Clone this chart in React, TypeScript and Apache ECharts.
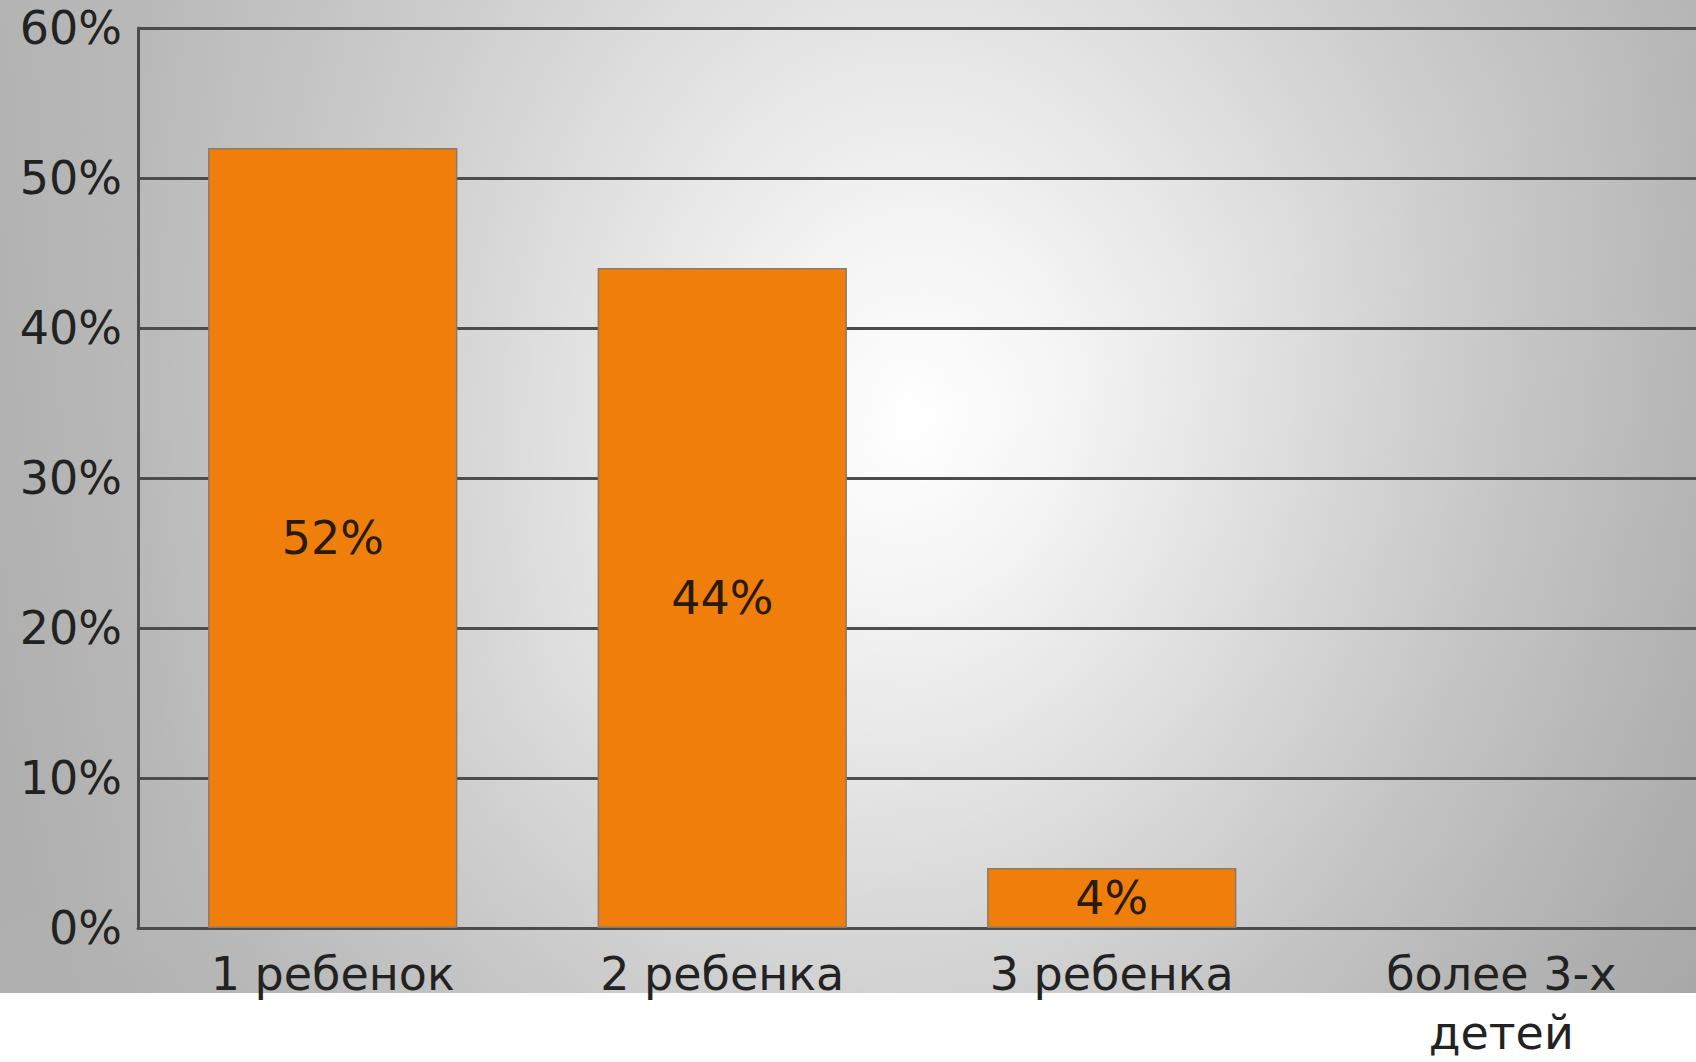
import React, { useEffect, useRef } from "react";
import * as echarts from "echarts";

const categories = ["1 ребенок", "2 ребенка", "3 ребенка", "более 3-х детей"];
const values = [52, 44, 4, 0];
const yTicks = [0, 10, 20, 30, 40, 50, 60];

export default function App() {
  const ref = useRef<HTMLDivElement>(null);
  useEffect(() => {
    if (!ref.current) return;
    const chart = echarts.init(ref.current, null, { renderer: "svg" });
    const font = "DejaVu Sans";
    const sx = 1696 / 2220;
    const sy = 993 / 1000;
    chart.setOption({
      animation: false,
      backgroundColor: "#ffffff",
      graphic: [
        {
          type: "rect",
          z: -10,
          silent: true,
          x: 0,
          y: 0,
          scaleX: sx,
          scaleY: sy,
          shape: { x: 0, y: 0, width: 2220, height: 1000 },
          style: {
            fill: {
              type: "radial",
              global: true,
              x: 910 / sx,
              y: 410 / sy,
              r: 1243,
              colorStops: [
                { offset: 0, color: "#ffffff" },
                { offset: 0.15, color: "#f6f6f6" },
                { offset: 0.33, color: "#e6e6e6" },
                { offset: 0.6, color: "#cccccc" },
                { offset: 0.85, color: "#b8b8b8" },
                { offset: 1, color: "#b0b0b0" },
              ],
            },
          },
        },
        {
          type: "rect",
          z: -9,
          silent: true,
          shape: { x: 0, y: 0, width: 1696, height: 993 },
          style: {
            fill: {
              type: "linear",
              x: 0,
              y: 0,
              x2: 1,
              y2: 1,
              colorStops: [
                { offset: 0, color: "rgba(255,255,255,0.05)" },
                { offset: 0.5, color: "rgba(0,0,0,0)" },
                { offset: 1, color: "rgba(0,0,0,0.06)" },
              ],
            },
          },
        },
      ],
      grid: { left: 138, right: 0, top: 28, bottom: 128, containLabel: false },
      xAxis: {
        type: "category",
        data: categories,
        axisTick: { show: false },
        axisLine: { show: true, lineStyle: { color: "#4c4c4c", width: 3 } },
        axisLabel: {
          fontFamily: font,
          fontSize: 46,
          color: "#222222",
          margin: 16,
          lineHeight: 59,
          interval: 0,
          formatter: (v: string) => v.replace(" детей", "\nдетей"),
        },
      },
      yAxis: {
        type: "value",
        min: yTicks[0],
        max: yTicks[yTicks.length - 1],
        interval: 10,
        axisLine: { show: true, lineStyle: { color: "#4c4c4c", width: 3 } },
        axisTick: { show: false },
        axisLabel: {
          fontFamily: font,
          fontSize: 46,
          color: "#222222",
          margin: 16,
          formatter: (v: number) => v + "%",
        },
        splitLine: { show: true, lineStyle: { color: "#4c4c4c", width: 3 } },
      },
      series: [
        {
          type: "bar",
          data: values.map((v) =>
            v === 0 ? { value: v, itemStyle: { borderWidth: 0, opacity: 0 } } : v
          ),
          barCategoryGap: "36%",
          itemStyle: { color: "#ef7f0a", borderColor: "#8a7a6a", borderWidth: 1.5 },
          label: {
            show: true,
            position: "inside",
            fontFamily: font,
            fontSize: 46,
            color: "#2a1a08",
            formatter: (p: any) => (p.value ? p.value + "%" : ""),
          },
        },
      ],
    });
    return () => chart.dispose();
  }, []);
  return (
    <div
      ref={ref}
      style={{ position: "fixed", left: 0, top: 0, width: 1696, height: 1062 }}
    />
  );
}
